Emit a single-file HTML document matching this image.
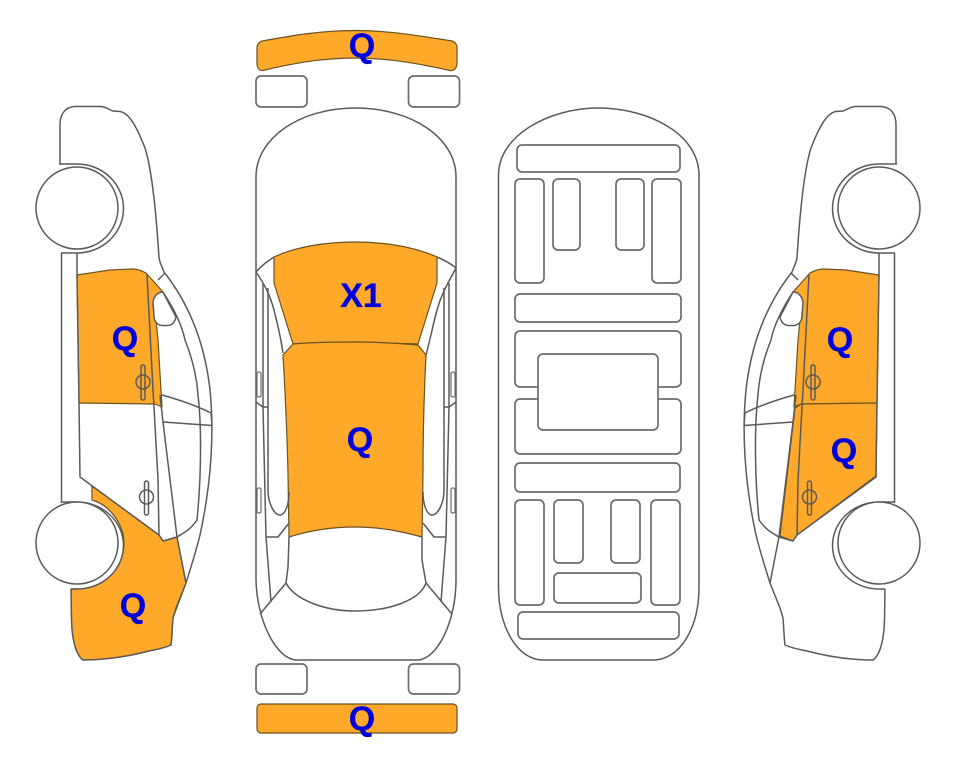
<!DOCTYPE html>
<html>
<head>
<meta charset="utf-8">
<style>
html,body{margin:0;padding:0;background:#fff;width:963px;height:768px;overflow:hidden}
svg{display:block;filter:blur(.3px)}
text{font-family:"Liberation Sans",sans-serif;font-weight:bold;font-size:34px;fill:#0000dc;stroke:#0000dc;stroke-width:.3;text-anchor:middle}
.l{fill:none;stroke:#5a5a5a;stroke-width:1.5;stroke-linejoin:round}
.g{fill:#fff;stroke:#6c6c6c;stroke-width:1.7}
.o{fill:#ffa92b;stroke:#6a5220;stroke-width:1.2;stroke-linejoin:round}
</style>
</head>
<body>
<svg width="963" height="768" viewBox="0 0 963 768" xmlns="http://www.w3.org/2000/svg">
<defs>
<g id="side">
  <path class="l" d="M60,164 V125 C60,113 66,107 75,106.500 L100,106.500 C106,106.500 109,110 113,111 L120,111.500 C130,113 138,130 145,148 C152,170 156,210 159,258 L160,262 L164,272 C190,305 205,345 210,390 C214,430 212,480 200,535 C195,555 190,570 186,583 L176,608 L173,618 C172,630 172,638 171,645 C160,650 150,650 145,652 C125,657 103,660 83,660 C76,655 72,640 71.500,620 L71,589"/>
  <path class="l" d="M158,280 L165,273"/>
  <path class="l" d="M163,292 C178,315 183,330 185,340 C193,360 197,380 198,395 C202,430 201,480 197,520 C190,530 185,532 177,537 L163,541 L159,535 L80,477 L79,403 L77,275"/>
  <path class="l" d="M147,274 L153,390 L154,407 L158,480 L159,535"/>
  <path class="l" d="M162,395 C180,400 197,406 211,413 M163,422 L212,425.500 M211,413 L212,425 M160,395 L163,422 L177,537 L186,583"/>
  <path class="l" d="M61.500,253 V503 M77,253 V276"/>
  <path class="l" d="M59,164 H77 A46.500,44.500 0 0 1 77,253 H61"/>
  <path class="l" d="M61,502 H77 A46.500,43.500 0 0 1 77,589 H71"/>
  <rect class="l" x="141" y="365" width="4" height="35" rx="2"/>
  <ellipse class="l" cx="143" cy="382" rx="7" ry="7"/>
  <rect class="l" x="144.500" y="481" width="4" height="34" rx="2"/>
  <ellipse class="l" cx="146.500" cy="497" rx="7" ry="7"/>
  <path d="M153,302 C154,296 158,292 163,292 L176,317 C175,322 172,325 168,325.500 L162,325.500 C157,325 154,321 154,316 Z" fill="#fff" stroke="#5a5a5a" stroke-width="1.500"/>
  <circle cx="77" cy="208" r="41" fill="#fff" stroke="#5a5a5a" stroke-width="1.500"/>
  <circle cx="77" cy="543" r="41" fill="#fff" stroke="#5a5a5a" stroke-width="1.500"/>
</g>
</defs>

<!-- left side view -->
<path class="o" d="M77,275 L110,270 L133,269 C138,269 142,271 146,273 L163,292 L154,300 L158,340 L162,407 L155,404 L79,403 Z"/>
<path class="o" d="M92,486 L159,535 L163,541 L177,537 L186,583 L173,618 C172,630 172,638 171,645 C160,650 150,650 145,652 C125,657 103,660 83,660 C76,655 72,640 71.500,620 L71,589 H77 C105,589 124,568 124,543 C124,525 110,505 92,500 Z"/>
<use href="#side"/>

<!-- right side view -->
<g transform="matrix(-1 0 0 1 956 0)">
  <path class="o" d="M77,275 L110,270 L133,269 C138,269 142,271 146,273 L163,292 L154,300 L158,340 L162,407 L155,404 L79,403 Z"/>
  <path class="o" d="M79,403 L80,476 L159,535 L163,541 L176,536 L161,408 L155,404 Z"/>
  <use href="#side"/>
</g>

<!-- top view -->
<path class="o" d="M257,48 C257,44 259,42 262,41 C290,36 320,30.500 355,30.500 C390,30.500 420,36 452,41 C455,42 457,44 457,48 V63 C457,68 454,71 450,70.500 C420,64 390,58 355,58 C320,58 290,64 263,70.500 C259,71 257,68 257,63 Z"/>
<rect class="g" x="256" y="76" width="51" height="31" rx="5"/>
<rect class="g" x="408.500" y="76" width="51" height="31" rx="5"/>
<rect class="g" x="256" y="664" width="51" height="30" rx="5"/>
<rect class="g" x="408.500" y="664" width="51" height="30" rx="5"/>
<rect class="o" x="257" y="704" width="200" height="29" rx="4"/>

<path class="l" d="M256,580 V177 C256,138 300,108 355,108 C412,108 456,138 456,177 V580 C456,622 437,660 417,660 H297 C277,660 257,622 256,580 Z"/>
<path class="o" d="M274,257 C295,247 325,242 355,242 C385,242 415,247 437,257 V283 L418,344 L355,342 L293,344 L274,283 Z"/>
<path class="o" d="M293,344 C315,342 335,342 355,342 C375,342 397,343 418,345 L426,355 C424,395 423,435 423,473 L422,537 C400,531 380,527 355,527 C330,527 308,531 289,537 L288,473 C287,430 285,390 283,355 Z"/>
<path class="l" d="M256,272 C262,265 268,261 274,257 M456,268 C450,263 444,260 437,257"/>
<path class="l" d="M256,272 C265,285 270,295 274,310 C278,325 281,340 283,353 M456,268 C447,285 441,295 437,310 C433,325 430,340 426,355"/>
<path class="l" d="M263,283 V407 L266,537 L271,602 M268,288 V490 C268,503 274,515 280,515 C285,515 289,505 289,492"/>
<path class="l" d="M449,283 V407 L446,537 L441,602 M444,288 V490 C444,503 438,515 432,515 C427,515 423,505 423,492"/>
<path class="l" d="M256,402 L263,407 H268 M456,402 L449,407 H444"/>
<path class="l" d="M266,537 H278 L289,523 M446,537 H434 L423,523"/>
<path class="l" d="M289,537 L288,567 L286,583 C295,600 325,611 355,611 C390,611 420,600 426,583 L422,560 L422,537"/>
<path class="l" d="M286,583 L260,614 M426,583 L452,614"/>
<rect class="g" style="stroke-width:1.2" x="257" y="372" width="4" height="25" rx="1.500"/>
<rect class="g" style="stroke-width:1.2" x="257" y="488" width="4" height="25" rx="1.500"/>
<rect class="g" style="stroke-width:1.2" x="451" y="372" width="4" height="25" rx="1.500"/>
<rect class="g" style="stroke-width:1.2" x="451" y="488" width="4" height="25" rx="1.500"/>

<!-- underbody -->
<path class="l" d="M498.500,175 C498.500,135 550,108 598,108 C650,108 699,135 699,175 V587 C699,628 680,660 653,660 H543 C518,660 498.500,628 498.500,587 Z"/>
<g>
<rect class="g" x="517" y="145" width="163" height="27" rx="5"/>
<rect class="g" x="515" y="179" width="29" height="104" rx="5"/>
<rect class="g" x="553" y="179" width="27" height="71" rx="5"/>
<rect class="g" x="616" y="179" width="28" height="71" rx="5"/>
<rect class="g" x="652" y="179" width="29" height="104" rx="5"/>
<rect class="g" x="515" y="294" width="166" height="28" rx="5"/>
<rect class="g" x="515" y="331" width="166" height="56" rx="5"/>
<rect class="g" x="515" y="399" width="166" height="55" rx="5"/>
<rect class="g" x="538" y="354" width="120" height="76" rx="5"/>
<rect class="g" x="515" y="463" width="165" height="29" rx="5"/>
<rect class="g" x="515" y="500" width="29" height="105" rx="5"/>
<rect class="g" x="554" y="500" width="29" height="63" rx="5"/>
<rect class="g" x="611" y="500" width="29" height="63" rx="5"/>
<rect class="g" x="651" y="500" width="29" height="105" rx="5"/>
<rect class="g" x="554" y="573" width="87" height="30" rx="5"/>
<rect class="g" x="518" y="612" width="161" height="27" rx="5"/>
</g>

<!-- labels -->
<text x="362" y="57">Q</text>
<text x="361" y="307">X1</text>
<text x="360" y="451">Q</text>
<text x="362" y="730">Q</text>
<text x="125" y="350">Q</text>
<text x="133" y="617">Q</text>
<text x="840" y="351">Q</text>
<text x="844" y="462">Q</text>
</svg>
</body>
</html>
